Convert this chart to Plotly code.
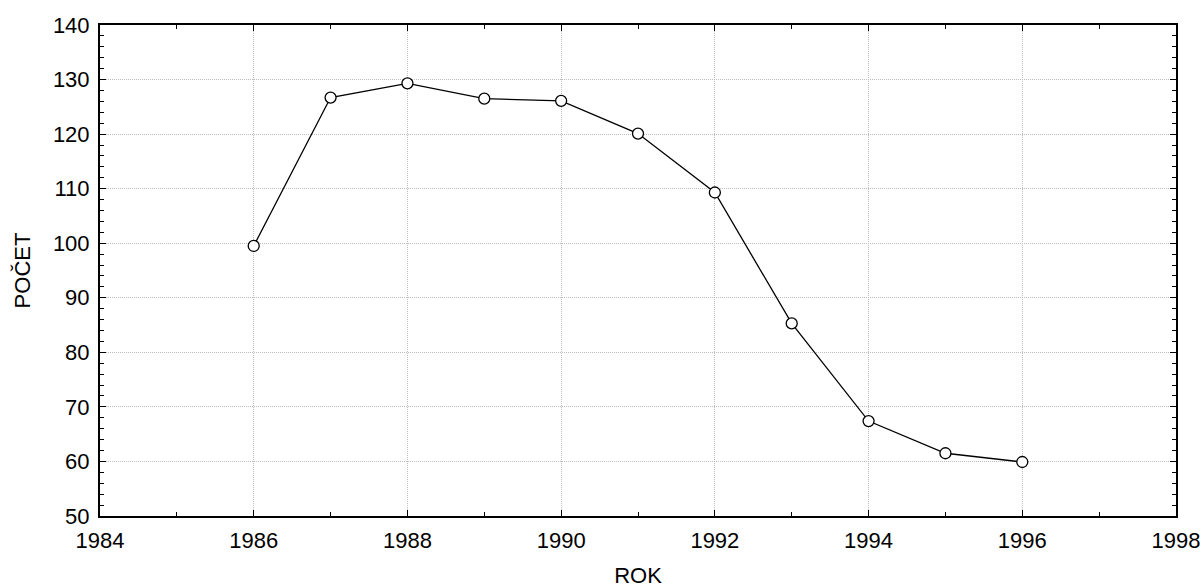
import plotly.graph_objects as go

# roky a hodnoty
rok = [1986, 1987, 1988, 1989, 1990, 1991, 1992, 1993, 1994, 1995, 1996]
pocet = [99.5, 126.7, 129.3, 126.5, 126.1, 120.1, 109.3, 85.3, 67.4, 61.5, 59.9]

FONT = 'Liberation Sans, Arial, sans-serif'

fig = go.Figure()
fig.add_trace(go.Scatter(
    x=rok, y=pocet,
    mode='lines+markers',
    line=dict(color='black', width=1.3),
    marker=dict(symbol='circle', size=11, color='white',
                line=dict(color='black', width=1.3)),
    showlegend=False
))

axis_common = dict(
    showline=True, linecolor='black', linewidth=2, mirror='allticks',
    ticks='inside', ticklen=6, tickwidth=1.3, tickcolor='black',
    showgrid=True, gridcolor='#bdbdbd', griddash='1px,1px', gridwidth=1,
    zeroline=False, automargin=False, ticklabelstandoff=4,
    tickfont=dict(family=FONT, size=22, color='black'),
)

fig.update_layout(
    width=1203, height=588,
    margin=dict(l=100, r=27, t=25, b=72),
    plot_bgcolor='white', paper_bgcolor='white',
    font=dict(family=FONT, color='black'),
    xaxis=dict(
        range=[1984, 1998], dtick=2, tick0=1984,
        minor=dict(dtick=1, ticks='inside', ticklen=4, tickwidth=1.3,
                   tickcolor='black', showgrid=False),
        title=dict(text='ROK', font=dict(size=22), standoff=30),
        **axis_common
    ),
    yaxis=dict(
        range=[50, 140], dtick=10, tick0=50,
        minor=dict(dtick=2, ticks='inside', ticklen=4, tickwidth=1.3,
                   tickcolor='black', showgrid=False),
        title=dict(text='POČET', font=dict(size=22), standoff=16),
        **axis_common
    ),
)

# bez okraje stránky, aby graf vyplnil celé okno
fig.write_html("out.html", config={'displayModeBar': False},
               post_script="document.body.style.margin='0';")
